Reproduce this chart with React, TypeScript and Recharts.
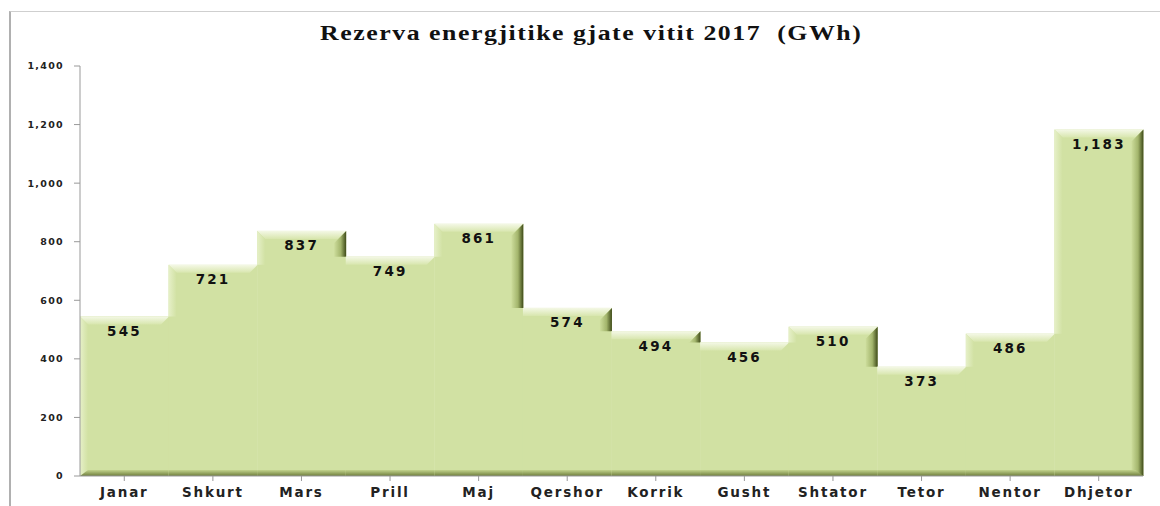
import React from "react";
import { BarChart, Bar, XAxis, YAxis, LabelList } from "recharts";

const months = ["Janar", "Shkurt", "Mars", "Prill", "Maj", "Qershor", "Korrik", "Gusht", "Shtator", "Tetor", "Nentor", "Dhjetor"];
const reserves = [545, 721, 837, 749, 861, 574, 494, 456, 510, 373, 486, 1183];
const yTicks = [0, 200, 400, 600, 800, 1000, 1200, 1400];

const data = months.map((m, i) => ({ month: m, value: reserves[i] }));

const fmt = (v: number) => v.toLocaleString("en-US");

const BevelBar = (props: any) => {
  const { x, y, width: w, height: h, index } = props;
  if (h <= 0) return null;
  const val = reserves[index];
  const pxPer = h / val;
  const b = 8;
  const next = index < reserves.length - 1 ? reserves[index + 1] : 0;
  const prev = index > 0 ? reserves[index - 1] : 0;
  const rightEnd = next < val ? y + h - next * pxPer : y;
  const leftEnd = prev < val ? y + h - prev * pxPer : y;
  return (
    <g>
      <rect x={x} y={y} width={w} height={h} fill="#d1e1a3" />
      {/* top bevel */}
      <polygon
        points={`${x},${y} ${x + w},${y} ${x + w - b},${y + b} ${x + (leftEnd > y ? b : 0)},${y + b}`}
        fill="url(#topBevel)"
      />
      {/* left bevel */}
      {leftEnd > y && (
        <polygon
          points={`${x},${y} ${x + b},${y + b} ${x + b},${leftEnd} ${x},${leftEnd}`}
          fill="url(#leftBevel)"
        />
      )}
      {/* right bevel */}
      {rightEnd > y && (
        <polygon
          points={`${x + w},${y} ${x + w},${rightEnd} ${x + w - b - 4},${rightEnd} ${x + w - b - 4},${y + b + 4}`}
          fill="url(#rightBevel)"
        />
      )}
      {/* bottom bevel */}
      <polygon
        points={`${x},${y + h} ${x + w},${y + h} ${x + w - (index === reserves.length - 1 ? b : 0)},${y + h - 6} ${x + (index === 0 ? b : 0)},${y + h - 6}`}
        fill="url(#bottomBevel)"
      />
    </g>
  );
};

export default function App() {
  return (
    <div style={{ position: "absolute", left: 0, top: 0, width: 1160, height: 506, background: "#fff", overflow: "hidden" }}>
      <div
        style={{
          position: "absolute",
          left: 9,
          top: 11,
          width: 1151,
          height: 495,
          borderLeft: "2px solid #b0b0b0",
          borderTop: "1px solid #cfcfcf",
        }}
      />
      <div
        style={{
          position: "absolute",
          left: 0,
          top: 22,
          width: 1182,
          textAlign: "center",
        }}
      >
        <span
          style={{
            display: "inline-block",
            fontFamily: "'Liberation Serif', 'DejaVu Serif', serif",
            fontWeight: "bold",
            fontSize: 20,
            letterSpacing: 1.2,
            color: "#111",
            whiteSpace: "pre",
            transform: "scaleX(1.29)",
          }}
        >
          {"Rezerva energjitike gjate vitit 2017  (GWh)"}
        </span>
      </div>
      <div style={{ position: "absolute", left: 0, top: 0 }}>
        <BarChart
          width={1160}
          height={506}
          data={data}
          margin={{ top: 66, right: 17, bottom: 0, left: 0 }}
          barCategoryGap={0}
          barGap={0}
        >
          <defs>
            <linearGradient id="topBevel" x1="0" y1="0" x2="0" y2="1">
              <stop offset="0%" stopColor="#f4f8e6" />
              <stop offset="100%" stopColor="#d8e6ae" />
            </linearGradient>
            <linearGradient id="leftBevel" x1="0" y1="0" x2="1" y2="0">
              <stop offset="0%" stopColor="#e6f0c8" />
              <stop offset="100%" stopColor="#d1e1a3" />
            </linearGradient>
            <linearGradient id="rightBevel" x1="0" y1="0" x2="1" y2="0">
              <stop offset="0%" stopColor="#cddd9c" />
              <stop offset="55%" stopColor="#a3b56c" />
              <stop offset="100%" stopColor="#3e4a18" />
            </linearGradient>
            <linearGradient id="bottomBevel" x1="0" y1="0" x2="0" y2="1">
              <stop offset="0%" stopColor="#c2d38c" />
              <stop offset="100%" stopColor="#6e7d3c" />
            </linearGradient>
          </defs>
          <XAxis
            dataKey="month"
            height={30}
            interval={0}
            tickLine={{ stroke: "#999" }}
            tickSize={5}
            axisLine={{ stroke: "#999" }}
            tick={{ fill: "#222", fontSize: 13.5, fontWeight: "bold", fontFamily: "'DejaVu Sans', sans-serif", letterSpacing: 1.8 }}
            tickMargin={6}
          />
          <YAxis
            width={80}
            domain={[0, 1400]}
            ticks={yTicks}
            interval={0}
            tickFormatter={fmt}
            tickLine={{ stroke: "#999" }}
            tickSize={6}
            axisLine={{ stroke: "#999" }}
            tick={{ fill: "#222", fontSize: 9.5, fontWeight: "bold", fontFamily: "'DejaVu Sans', sans-serif", letterSpacing: 1.3 }}
            tickMargin={10}
          />
          <Bar dataKey="value" isAnimationActive={false} shape={BevelBar}>
            <LabelList
              dataKey="value"
              position="insideTop"
              offset={10}
              formatter={(v: any) => fmt(Number(v))}
              style={{ fill: "#111", fontSize: 13.5, fontWeight: "bold", fontFamily: "'DejaVu Sans', sans-serif", letterSpacing: 2.2 }}
            />
          </Bar>
        </BarChart>
      </div>
    </div>
  );
}
